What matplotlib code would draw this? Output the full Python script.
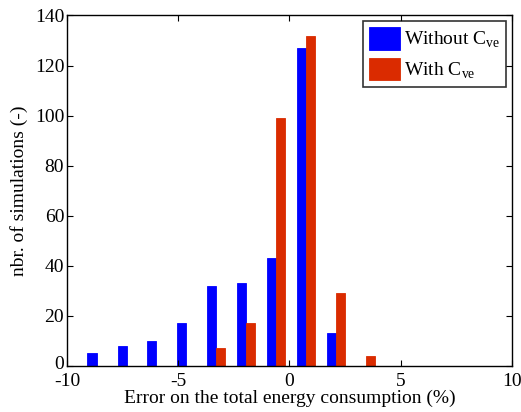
import numpy as np
import matplotlib.pyplot as plt
import matplotlib.transforms as mtransforms

plt.rcParams['font.family'] = ['Liberation Serif', 'DejaVu Serif']
plt.rcParams['mathtext.fontset'] = 'custom'
plt.rcParams['mathtext.rm'] = 'Liberation Serif'
plt.rcParams['axes.unicode_minus'] = False

# histogram bin centres (%) and counts
bin_centers = [-8.67, -7.32, -5.98, -4.63, -3.29, -1.94, -0.60, 0.75, 2.09, 3.44]
without_cve = [5, 8, 10, 17, 32, 33, 43, 127, 13, 0]
with_cve = [0, 0, 0, 0, 7, 17, 99, 132, 29, 4]

blue = '#0000FF'
red = '#DA2B00'
w = 0.41
fs = 14

fig = plt.figure(figsize=(5.21, 4.12), dpi=100)
ax = fig.add_axes([0.1286, 0.1117, 0.8541, 0.8507])

x = np.array(bin_centers)
ax.bar(x - w / 2, without_cve, width=w, color=blue, edgecolor=blue, linewidth=0.6,
       label='Without C$_{\\mathrm{ve}}$')
ax.bar(x + w / 2, with_cve, width=w, color=red, edgecolor=red, linewidth=0.6,
       label='With C$_{\\mathrm{ve}}$')

ax.set_xlim(-10, 10)
ax.set_ylim(0, 140)
ax.set_xticks([-10, -5, 0, 5, 10])
ax.set_yticks(range(0, 141, 20))
ax.tick_params(direction='in', top=True, right=True, length=4, width=0.8,
               labelsize=fs)
ax.tick_params(axis='x', pad=5)
ax.tick_params(axis='y', pad=2)
for s in ax.spines.values():
    s.set_linewidth(1.0)

# lift the y "0" label a little so it doesn't sit on top of "-10"
fig.canvas.draw()
lbl0 = ax.get_yticklabels()[0]
lbl0.set_transform(lbl0.get_transform() + mtransforms.ScaledTranslation(0, 2.5 / 72, fig.dpi_scale_trans))

ax.set_xlabel('Error on the total energy consumption (%)', fontsize=fs, labelpad=0)
ax.set_ylabel('nbr. of simulations (-)', fontsize=fs, labelpad=5)

leg = ax.legend(loc='upper right', fontsize=fs, frameon=True, fancybox=False,
                edgecolor='black', handlelength=1.6, handleheight=1.4,
                handletextpad=0.2, borderpad=0.3, labelspacing=0.4,
                borderaxespad=0.3)
leg.get_frame().set_linewidth(1.2)

fig.savefig('out.png', dpi=100)
